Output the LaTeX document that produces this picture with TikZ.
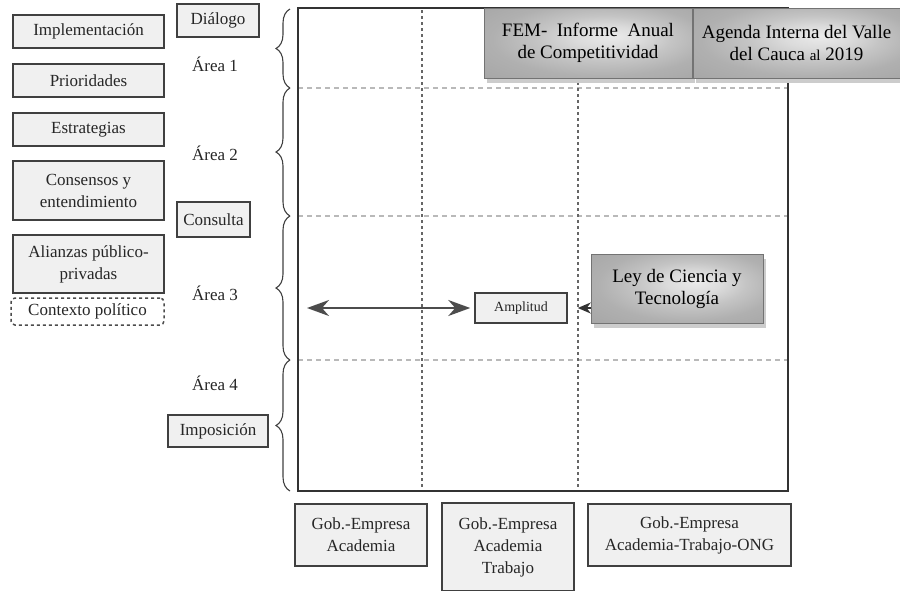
\documentclass[tikz,border=0pt]{standalone}
\usepackage{fontspec}
\setmainfont{Liberation Serif}
\usetikzlibrary{arrows.meta,decorations.pathreplacing,shadows}

\pgfdeclareradialshading{sombra}{\pgfpoint{6bp}{5bp}}{%
  color(0bp)=(gray!16); color(8bp)=(gray!28); color(16bp)=(gray!46);
  color(26bp)=(gray!62); color(50bp)=(gray!78)}

\tikzset{
  grisbox/.style={draw=black!75, line width=1.5pt, fill=gray!12, text=black!85,
    align=center, inner sep=1pt, font=\fontsize{17}{22}\selectfont},
  sombrabox/.style={draw=black!55, line width=1pt, shade, shading=sombra,
    align=center, text=black, inner sep=1pt,
    font=\fontsize{19}{24}\selectfont,
    drop shadow={shadow xshift=3pt, shadow yshift=-5pt, fill=gray!40, opacity=1}},
  llave/.style={decorate, decoration={brace, amplitude=14pt}, draw=black!75, line width=1.1pt},
  areatxt/.style={text=black!85, font=\fontsize{17}{22}\selectfont},
  marco/.style={draw=black!80, line width=1.8pt},
  rejilla/.style={draw=gray!55, line width=1.5pt, dash pattern=on 5pt off 4pt},
  punteada/.style={draw=black!60, line width=2pt, dash pattern=on 2.5pt off 3.5pt},
}

\begin{document}
\begin{tikzpicture}[x=1pt, y=-1pt]
    \useasboundingbox (0,0) rectangle (900,590);

    % grid
    \foreach \y in {88,216,360} \draw[rejilla] (298,\y) -- (788,\y);
    \foreach \x in {422,578} \draw[punteada] (\x,10) -- (\x,489);
    \draw[marco] (298,8) rectangle (788,491);

    % braces
    \draw[llave] (290,88) -- (290,9);
    \draw[llave] (290,216) -- (290,88);
    \draw[llave] (290,360) -- (290,216);
    \draw[llave] (290,491) -- (290,360);

    % Left boxes
    \node[grisbox, minimum width=151, minimum height=33] (impl) at (88.5,31.5) {Implementación};
    \node[grisbox, minimum width=151, minimum height=33] (prio) at (88.5,80.5) {Prioridades};
    \node[grisbox, minimum width=151, minimum height=33] (estr) at (88.5,129.5) {Estrategias};
    \node[grisbox, minimum width=151, minimum height=59] (cons) at (88.5,190.5) {Consensos y\\entendimiento};
    \node[grisbox, minimum width=151, minimum height=58] (alia) at (88.5,264) {Alianzas público-\\privadas};
    \node[grisbox, fill=white, draw=black!70, dashed, rounded corners=4pt,
          minimum width=153, minimum height=27] (ctx) at (87.5,311.5) {Contexto político};

    % Areas
    \node[grisbox, minimum width=82, minimum height=33] (dial) at (218,20.5) {Diálogo};
    \node[grisbox, minimum width=73, minimum height=35] (cnsl) at (213.5,219.5) {Consulta};
    \node[grisbox, minimum width=100, minimum height=32] (impo) at (218,431) {Imposición};
    \node[areatxt] (area1) at (215,64) {Área 1};
    \node[areatxt] (area2) at (215,153) {Área 2};
    \node[areatxt] (area3) at (215,293) {Área 3};
    \node[areatxt] (area4) at (215,383) {Área 4};

    % Shaded sources
    \node[sombrabox, minimum width=208, minimum height=70] (fem) at (588,43)
        {FEM-\ \ Informe\ \ Anual\\[-2pt]de Competitividad};
    \node[sombrabox, minimum width=207, minimum height=70] (agen) at (796.5,43)
        {Agenda Interna del Valle\\[-2pt]del Cauca {\fontsize{15}{24}\selectfont al} 2019};
    \node[sombrabox, minimum width=172, minimum height=69] (ley) at (677,288.5)
        {Ley de Ciencia y\\[-2pt]Tecnología};

    % Amplitud
    \node[grisbox, minimum width=92, minimum height=30, font=\fontsize{14}{16}\selectfont] (amp) at (521,308) {Amplitud};
    \coordinate (izq) at (307,308);
    \draw[{Stealth[length=22pt,width=16pt,inset=7pt]}-{Stealth[length=22pt,width=16pt,inset=7pt]},
          draw=black!70, line width=1.8pt, shorten >=4pt] (izq) -- (amp.west);
    \draw[-{Stealth[length=13pt,width=11pt,inset=4pt]}, draw=black!80, line width=1.6pt,
          shorten >=10pt] (amp.east -| ley.west) -- (amp.east);

    % Bottom boxes
    \node[grisbox, minimum width=132, minimum height=62] (gob1) at (361,535) {Gob.-Empresa\\Academia};
    \node[grisbox, minimum width=132, minimum height=88] (gob2) at (508,547) {Gob.-Empresa\\Academia\\Trabajo};
    \node[grisbox, minimum width=203, minimum height=62] (gob3) at (689.5,535) {Gob.-Empresa\\Academia-Trabajo-ONG};

\end{tikzpicture}
\end{document}
